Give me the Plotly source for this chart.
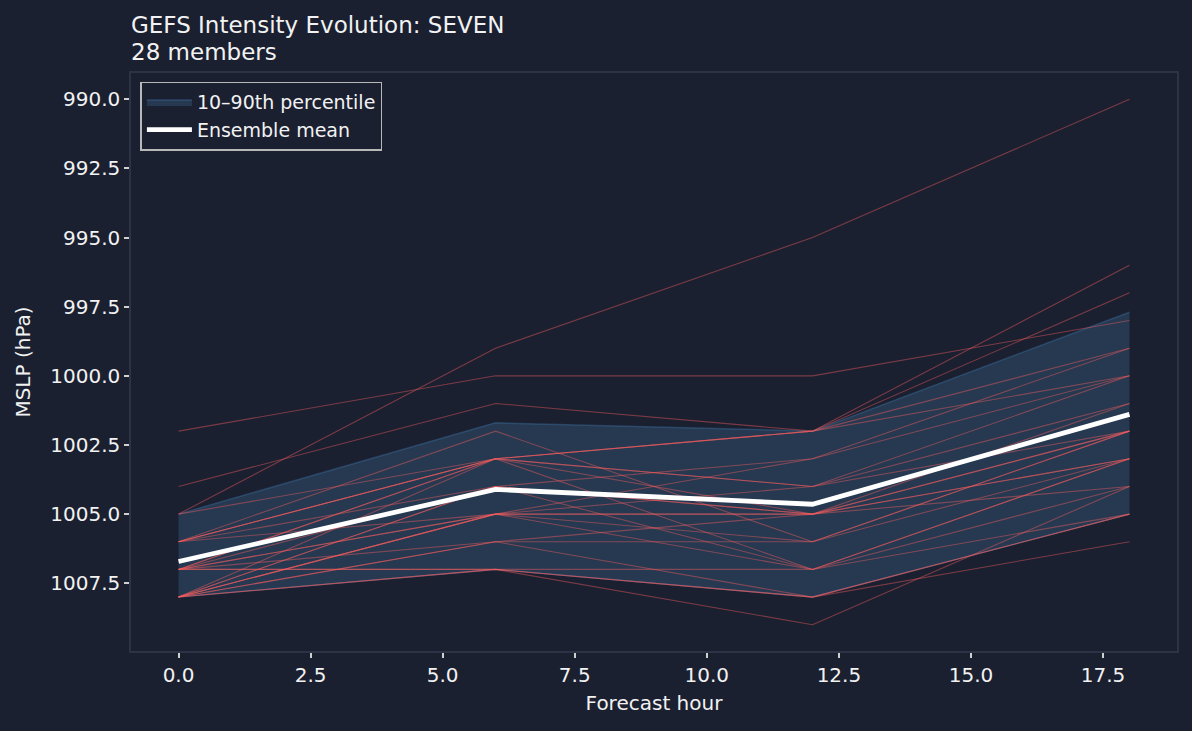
import numpy as np
import plotly.graph_objects as go

hours = [0, 6, 12, 18]
members = [
    [1002, 1000, 1000, 998],
    [1004, 1001, 1002, 997],
    [1005, 999, 995, 990],
    [1006, 1002, 1006, 1002],
    [1005, 1003, 1002, 996],
    [1006, 1003, 1002, 999],
    [1006, 1003, 1002, 1000],
    [1006, 1003, 1004, 1000],
    [1006, 1004, 1003, 999],
    [1006, 1005, 1003, 1000],
    [1007, 1003, 1004, 1001],
    [1007, 1003, 1005, 1001],
    [1007, 1004, 1005, 1002],
    [1007, 1005, 1004, 1002],
    [1007, 1005, 1005, 1002],
    [1007, 1006, 1005, 1003],
    [1007, 1007, 1007, 1003],
    [1007, 1007, 1008, 1005],
    [1008, 1003, 1007, 1004],
    [1008, 1004, 1007, 1005],
    [1008, 1004, 1005, 1003],
    [1008, 1005, 1005, 1004],
    [1008, 1005, 1006, 1003],
    [1008, 1005, 1007, 1003],
    [1008, 1006, 1006, 1002],
    [1008, 1006, 1008, 1006],
    [1008, 1007, 1008, 1005],
    [1008, 1007, 1009, 1004],
]
y_ticks = [990.0, 992.5, 995.0, 997.5, 1000.0, 1002.5, 1005.0, 1007.5]
x_ticks = [0.0, 2.5, 5.0, 7.5, 10.0, 12.5, 15.0, 17.5]
title_main = "GEFS Intensity Evolution: SEVEN"
title_sub = "28 members"

arr = np.array(members, dtype=float)
mean = arr.mean(axis=0)
p10 = np.percentile(arr, 10, axis=0)
p90 = np.percentile(arr, 90, axis=0)

BG = "#1b2031"
FONT = "DejaVu Sans"
TXT = "#f2f2f2"
band_fill = "rgba(70,130,180,0.25)"

fig = go.Figure()
fig.add_trace(go.Scatter(x=hours, y=p90, mode="lines",
                         line=dict(color="rgba(70,130,180,0.35)", width=1.5),
                         showlegend=False, hoverinfo="skip"))
fig.add_trace(go.Scatter(x=hours, y=p10, mode="lines", fill="tonexty",
                         fillcolor=band_fill,
                         line=dict(color="rgba(70,130,180,0.35)", width=1.5),
                         name="10–90th percentile"))
for m in members:
    fig.add_trace(go.Scatter(x=hours, y=m, mode="lines",
                             line=dict(color="rgba(255,95,95,0.42)", width=1.1),
                             showlegend=False, hoverinfo="skip"))
fig.add_trace(go.Scatter(x=hours, y=mean, mode="lines",
                         line=dict(color="#ffffff", width=4.8),
                         name="Ensemble mean"))

axis_common = dict(
    showgrid=False, zeroline=False,
    showline=True, mirror=True, linecolor="#2d3345", linewidth=1.5,
    ticks="outside", ticklen=5, tickwidth=1.5, tickcolor="#d0d0d0",
    tickfont=dict(family=FONT, size=20, color=TXT),
)
fig.update_layout(
    width=1192, height=731,
    margin=dict(l=131, r=15, t=73, b=80),
    paper_bgcolor=BG, plot_bgcolor=BG,
    font=dict(family=FONT, color=TXT),
    xaxis=dict(range=[-0.9, 18.9], tickvals=x_ticks,
               ticktext=[f"{v:.1f}" for v in x_ticks],
               title=dict(text="Forecast hour", standoff=10,
                          font=dict(family=FONT, size=20, color=TXT)),
               **axis_common),
    yaxis=dict(range=[1009.95, 989.05], tickvals=y_ticks,
               ticktext=[f"{v:.1f}" for v in y_ticks],
               title=dict(text="MSLP (hPa)", standoff=14,
                          font=dict(family=FONT, size=20, color=TXT)),
               **axis_common),
    legend=dict(x=0.009, y=0.985, xanchor="left", yanchor="top",
                traceorder="normal", itemwidth=45,
                bgcolor=BG, bordercolor="#b8b8b8", borderwidth=1.5,
                font=dict(family=FONT, size=19, color=TXT),
                tracegroupgap=0),
    showlegend=True,
    annotations=[
        dict(text=title_main, x=0, xref="paper", xanchor="left", xshift=-2,
             y=1 + (73 - 25) / 578, yref="paper", yanchor="middle",
             showarrow=False, font=dict(family=FONT, size=23, color=TXT)),
        dict(text=title_sub, x=0, xref="paper", xanchor="left", xshift=-2,
             y=1 + (73 - 52) / 578, yref="paper", yanchor="middle",
             showarrow=False, font=dict(family=FONT, size=23, color=TXT)),
    ],
)
fig.write_html("out.html")
